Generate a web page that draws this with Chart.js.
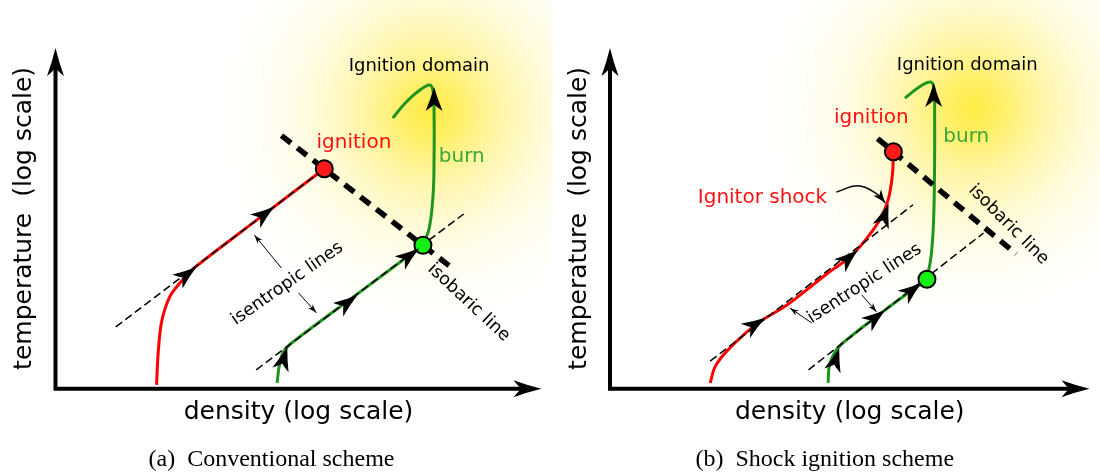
<!DOCTYPE html>
<html>
<head>
<meta charset="utf-8">
<script src="https://cdn.jsdelivr.net/npm/chart.js@4.4.1/dist/chart.umd.min.js"></script>
<style>
  html, body { margin: 0; padding: 0; background: #fff; overflow: hidden; }
  #wrap { position: relative; width: 1100px; height: 476px; }
  .panel { position: absolute; top: 0; height: 476px; }
  #panelA { left: 0; width: 552px; }
  #panelB { left: 552px; width: 548px; }
</style>
</head>
<body>
<div id="wrap">
  <div class="panel" id="panelA"><canvas id="chartA"></canvas></div>
  <div class="panel" id="panelB"><canvas id="chartB"></canvas></div>
</div>
<script>
// axes: log density 0..10, log temperature 0..7 (schematic units)
const xRange = [0, 10];
const yRange = [0, 7];
const xTitle = 'density (log scale)';
const yTitle = 'temperature  (log scale)';
const captions = ['(a)  Conventional scheme', '(b)  Shock ignition scheme'];

// ---- (a) conventional scheme ----
const isentropeHotA = [[1.24, 1.27], [5.53, 4.52]];
const isentropeColdA = [[4.13, 0.39], [8.40, 3.59]];
const isobarA = [[4.65, 5.20], [8.15, 2.49]];
const pathRedA = [[2.08, 0.08], [2.11, 0.70], [2.18, 1.36], [2.35, 1.89], [2.60, 2.22], [2.85, 2.48], [4.20, 3.51], [5.53, 4.52]];
const pathGreenA = [[4.56, 0.12], [4.60, 0.45], [4.67, 0.72], [4.82, 0.91], [6.20, 1.94], [7.56, 2.95]];
const burnA = [[7.56, 2.95], [7.69, 3.30], [7.77, 4.00], [7.79, 4.80], [7.79, 5.60], [7.77, 6.10], [7.70, 6.24], [7.45, 6.10], [7.17, 5.84], [6.94, 5.56]];
const ignitionA = [[5.53, 4.52]];
const burnStartA = [[7.56, 2.95]];
const pointersA = [[[4.65, 2.48], [4.09, 3.16]], [[5.00, 1.97], [5.37, 1.56]]];
// arrowheads: x, y, direction dx, dy
const headsRedA = [[2.90, 2.50, 1, 0.76], [4.50, 3.74, 1, 0.76]];
const headsGreenA = [[4.77, 0.86, 0.3, 1], [6.21, 1.92, 1, 0.75], [7.48, 2.88, 1, 0.75]];
const headsBurnA = [[7.79, 6.20, 0, 1]];
// labels: text, x, y, angle, kind
const labelsA = [
  ['Ignition domain', 7.48, 6.63, 0, 'domain'],
  ['ignition', 6.14, 5.05, 0, 'red'],
  ['burn', 8.36, 4.76, 0, 'green'],
  ['isentropic lines', 4.77, 2.16, -35, 'note'],
  ['isobaric line', 8.50, 1.77, 43, 'note']
];
const glowA = [7.72, 5.69];

// ---- (b) shock ignition scheme ----
const isentropeHotB = [[2.09, 0.57], [6.32, 3.78]];
const isentropeColdB = [[4.14, 0.39], [7.79, 3.20]];
const isobarB = [[5.58, 5.14], [8.47, 2.77]];
const pathRedB = [[2.09, 0.12], [2.19, 0.45], [2.46, 0.80], [3.08, 1.35], [3.69, 1.72], [4.60, 2.42], [5.00, 2.70], [5.33, 3.06], [5.60, 3.43], [5.80, 3.88], [5.89, 4.40], [5.91, 4.87]];
const pathGreenB = [[4.55, 0.12], [4.57, 0.45], [4.66, 0.70], [4.82, 0.91], [5.70, 1.59], [6.61, 2.25]];
const burnB = [[6.61, 2.25], [6.70, 2.75], [6.75, 3.50], [6.77, 4.70], [6.77, 5.70], [6.76, 6.15], [6.69, 6.30], [6.45, 6.20], [6.15, 5.97]];
const shockB = [[4.72, 4.04], [5.17, 4.17], [5.54, 4.02], [5.74, 3.82]];
const ignitionB = [[5.91, 4.87]];
const burnStartB = [[6.61, 2.25]];
const pointersB = [[[4.21, 1.35], [3.75, 1.66]], [[5.25, 1.93], [5.56, 1.58]]];
const headsRedB = [[3.24, 1.46, 1, 0.65], [5.17, 2.85, 1, 0.85], [5.81, 3.80, 0.35, 1]];
const headsGreenB = [[4.78, 0.84, 0.3, 1], [5.74, 1.62, 1, 0.77], [6.50, 2.18, 1, 0.77]];
const headsBurnB = [[6.75, 6.28, 0, 1]];
const headsShockB = [[5.74, 3.82, 0.8, -1]];
const labelsB = [
  ['Ignition domain', 7.45, 6.65, 0, 'domain'],
  ['ignition', 5.45, 5.56, 0, 'red'],
  ['burn', 7.43, 5.17, 0, 'green'],
  ['Ignitor shock', 3.18, 3.92, 0, 'red'],
  ['isentropic lines', 5.31, 2.16, -33, 'note'],
  ['isobaric line', 8.31, 3.37, 45, 'note']
];
const glowB = [7.59, 5.77];

// ---- styles ----
const RED = '#ff0000';
const GREEN = '#1e961e';
const labelStyle = {
  domain: { size: 18, color: '#000' },
  red: { size: 20, color: '#ff1010' },
  green: { size: 20, color: '#3aa83a' },
  note: { size: 17.5, color: '#000' }
};
const headSize = { axis: [28, 17], path: [24, 17], pointer: [9, 6], shock: [13, 10] };

function pts(a) { return a.map(p => ({ x: p[0], y: p[1] })); }

function curve(data, color, width, dash, order, tension) {
  return {
    data: pts(data), showLine: true, borderColor: color, borderWidth: width,
    borderDash: dash || [], pointRadius: 0, order: order, tension: tension || 0,
    borderCapStyle: 'butt', fill: false, clip: false
  };
}

function dot(data, color) {
  return {
    data: pts(data), showLine: false, pointRadius: 8.5, pointBackgroundColor: color,
    pointBorderColor: '#000', pointBorderWidth: 2, order: 0, clip: false
  };
}

function drawHead(ctx, x, y, ang, len, wid, color) {
  ctx.save();
  ctx.translate(x, y);
  ctx.rotate(ang);
  ctx.fillStyle = color;
  ctx.beginPath();
  ctx.moveTo(0, 0);
  ctx.quadraticCurveTo(-len * 0.5, -wid * 0.2, -len, -wid / 2);
  ctx.quadraticCurveTo(-len * 0.8, -wid * 0.1, -len * 0.72, 0);
  ctx.quadraticCurveTo(-len * 0.8, wid * 0.1, -len, wid / 2);
  ctx.quadraticCurveTo(-len * 0.5, wid * 0.2, 0, 0);
  ctx.closePath();
  ctx.fill();
  ctx.restore();
}

const schemePlugin = {
  id: 'scheme',
  beforeDraw(chart) {
    const o = chart.options.plugins.scheme;
    const { ctx } = chart;
    const xs = chart.scales.x, ys = chart.scales.y;
    const cx = xs.getPixelForValue(o.glow[0]);
    const cy = ys.getPixelForValue(o.glow[1]);
    const r = xs.getPixelForValue(4.9) - xs.getPixelForValue(0);
    const g = ctx.createRadialGradient(cx, cy, 0, cx, cy, r);
    g.addColorStop(0, 'rgba(255,234,50,0.92)');
    g.addColorStop(0.12, 'rgba(255,236,70,0.82)');
    g.addColorStop(0.32, 'rgba(255,240,120,0.58)');
    g.addColorStop(0.55, 'rgba(255,245,170,0.32)');
    g.addColorStop(0.78, 'rgba(255,250,215,0.14)');
    g.addColorStop(1, 'rgba(255,255,255,0)');
    ctx.save();
    ctx.fillStyle = g;
    ctx.fillRect(0, 0, chart.width, chart.height);
    ctx.restore();
  },
  afterDatasetsDraw(chart) {
    const o = chart.options.plugins.scheme;
    const { ctx, chartArea } = chart;
    const xs = chart.scales.x, ys = chart.scales.y;
    // axes with arrowheads
    const [aL, aW] = headSize.axis;
    ctx.save();
    ctx.strokeStyle = '#000';
    ctx.lineWidth = 4;
    ctx.lineCap = 'butt';
    ctx.beginPath();
    ctx.moveTo(chartArea.left, chartArea.top + aL * 0.7);
    ctx.lineTo(chartArea.left, chartArea.bottom);
    ctx.lineTo(chartArea.right - aL * 0.7, chartArea.bottom);
    ctx.stroke();
    ctx.restore();
    drawHead(ctx, chartArea.left, chartArea.top, -Math.PI / 2, aL, aW, '#000');
    drawHead(ctx, chartArea.right, chartArea.bottom, 0, aL, aW, '#000');
    // arrowheads on the paths
    o.heads.forEach(group => {
      const [len, wid] = headSize[group.size];
      group.list.forEach(h => {
        const px = xs.getPixelForValue(h[0]), py = ys.getPixelForValue(h[1]);
        const ex = xs.getPixelForValue(h[0] + h[2] * 0.1) - px;
        const ey = ys.getPixelForValue(h[1] + h[3] * 0.1) - py;
        drawHead(ctx, px, py, Math.atan2(ey, ex), len, wid, '#000');
      });
    });
    // text labels
    o.labels.forEach(l => {
      const st = labelStyle[l[4]];
      ctx.save();
      ctx.translate(xs.getPixelForValue(l[1]), ys.getPixelForValue(l[2]));
      ctx.rotate(l[3] * Math.PI / 180);
      ctx.font = st.size + 'px "DejaVu Sans"';
      ctx.fillStyle = st.color;
      ctx.textAlign = 'center';
      ctx.textBaseline = 'middle';
      ctx.fillText(l[0], 0, 0);
      ctx.restore();
    });
  }
};

function makePanel(id, p) {
  const datasets = [
    curve(p.hot, '#000', 1.5, [8, 4], 1),
    curve(p.cold, '#000', 1.5, [8, 4], 1),
    curve(p.isobar, '#000', 5.5, [12, 8], 1),
    curve(p.red, RED, 3, null, 2, 0.3),
    curve(p.green, GREEN, 3, null, 2, 0.3),
    curve(p.burn, GREEN, 3, null, 2, 0.4),
    dot(p.ignition, '#ff1a1a'),
    dot(p.burnStart, '#14f014')
  ];
  p.pointers.forEach(seg => datasets.push(curve(seg, '#000', 1, null, 1)));
  if (p.shock) datasets.push(curve(p.shock, '#000', 1.5, null, 1, 0.4));

  const heads = [
    { size: 'path', list: p.headsRed },
    { size: 'path', list: p.headsGreen },
    { size: 'path', list: p.headsBurn },
    { size: 'pointer', list: p.pointers.map(s => [s[1][0], s[1][1], s[1][0] - s[0][0], s[1][1] - s[0][1]]) }
  ];
  if (p.headsShock) heads.push({ size: 'shock', list: p.headsShock });

  return new Chart(document.getElementById(id), {
    type: 'scatter',
    data: { datasets: datasets },
    plugins: [schemePlugin],
    options: {
      responsive: true,
      maintainAspectRatio: false,
      animation: false,
      events: [],
      layout: { padding: { top: 48, right: p.padRight, left: 0, bottom: 0 } },
      scales: {
        x: {
          type: 'linear', min: xRange[0], max: xRange[1],
          grid: { display: false }, border: { display: false }, ticks: { display: false },
          title: { display: true, text: xTitle, color: '#000', font: { family: 'DejaVu Sans', size: 25 }, padding: { top: 0, bottom: 9 } },
          afterFit: s => { s.height = 47.4; }
        },
        y: {
          type: 'linear', min: yRange[0], max: yRange[1],
          grid: { display: false }, border: { display: false }, ticks: { display: false },
          title: { display: true, text: yTitle, color: '#000', font: { family: 'DejaVu Sans', size: 25 }, padding: { top: p.yTitlePad, bottom: 0 } },
          afterFit: s => { s.width = p.yWidth; }
        }
      },
      plugins: {
        legend: { display: false },
        tooltip: { enabled: false },
        title: {
          display: true, position: 'bottom', text: p.caption, color: '#000',
          font: { family: 'Liberation Serif', size: 24, weight: 'normal' },
          padding: { top: 9, bottom: 2 }
        },
        scheme: { glow: p.glow, heads: heads, labels: p.labels }
      }
    }
  });
}

makePanel('chartA', {
  hot: isentropeHotA, cold: isentropeColdA, isobar: isobarA,
  red: pathRedA, green: pathGreenA, burn: burnA,
  ignition: ignitionA, burnStart: burnStartA, pointers: pointersA,
  headsRed: headsRedA, headsGreen: headsGreenA, headsBurn: headsBurnA,
  labels: labelsA, glow: glowA, caption: captions[0],
  yWidth: 55.5, yTitlePad: 9, padRight: 9
});

makePanel('chartB', {
  hot: isentropeHotB, cold: isentropeColdB, isobar: isobarB,
  red: pathRedB, green: pathGreenB, burn: burnB, shock: shockB,
  ignition: ignitionB, burnStart: burnStartB, pointers: pointersB,
  headsRed: headsRedB, headsGreen: headsGreenB, headsBurn: headsBurnB, headsShock: headsShockB,
  labels: labelsB, glow: glowB, caption: captions[1],
  yWidth: 58, yTitlePad: 12, padRight: 2.5
});
</script>
</body>
</html>
